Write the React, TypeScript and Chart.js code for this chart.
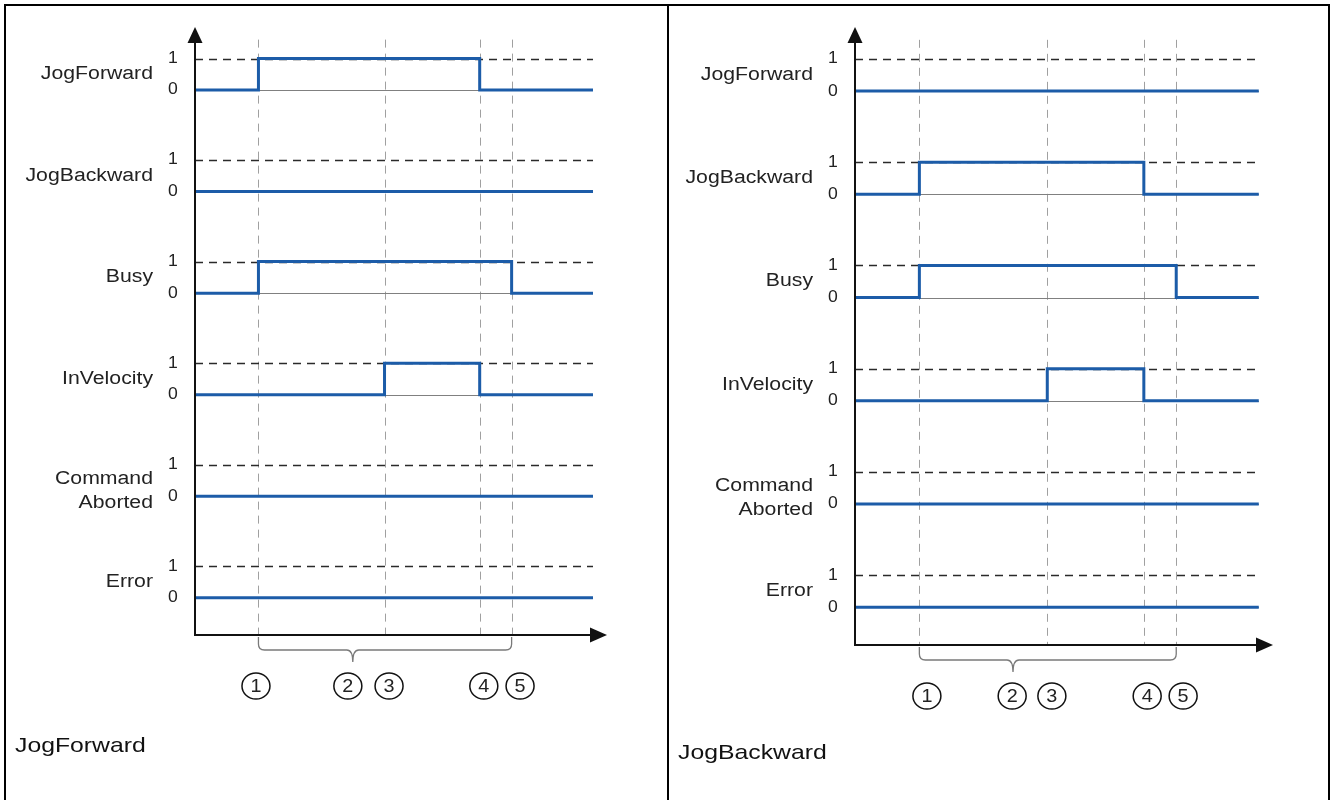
import React, { useEffect, useRef } from "react";
import { Chart, registerables } from "chart.js";

Chart.register(...registerables);

// ---------- data ----------
const SIGNAL_LABELS: string[][] = [
  ["JogForward"],
  ["JogBackward"],
  ["Busy"],
  ["InVelocity"],
  ["Command", "Aborted"],
  ["Error"],
];
const LEVEL_TICKS = ["0", "1"];
// edge times (markers 1, 3, 4, 5) on a 0..100 time axis (100 = arrow tip)
const EVENT_TIMES = [15.4, 46, 69.1, 76.85];
const SIGNAL_END = 96.6;
// levels per interval: [0-t1, t1-t3, t3-t4, t4-t5, t5-end]
const FWD_JOGFORWARD = [0, 1, 1, 0, 0];
const FWD_JOGBACKWARD = [0, 0, 0, 0, 0];
const FWD_BUSY = [0, 1, 1, 1, 0];
const FWD_INVELOCITY = [0, 0, 1, 0, 0];
const FWD_ABORTED = [0, 0, 0, 0, 0];
const FWD_ERROR = [0, 0, 0, 0, 0];

const BWD_JOGFORWARD = [0, 0, 0, 0, 0];
const BWD_JOGBACKWARD = [0, 1, 1, 0, 0];
const BWD_BUSY = [0, 1, 1, 1, 0];
const BWD_INVELOCITY = [0, 0, 1, 0, 0];
const BWD_ABORTED = [0, 0, 0, 0, 0];
const BWD_ERROR = [0, 0, 0, 0, 0];

const MARKER_NUMBERS = ["1", "2", "3", "4", "5"];
const FWD_MARKER_TIMES = [14.8, 37.1, 47.1, 70.1, 78.9];
const BWD_MARKER_TIMES = [17.2, 37.6, 47.1, 69.9, 78.5];
const BRACE_TIP_TIMES = [38.3, 37.8];

const CAPTIONS = ["JogForward", "JogBackward"];

// ---------- geometry / style ----------
const ROW_SPACING = 3.22;
const Y_MIN = -1.18;
const Y_MAX = 18.1;
const VLINE_TOP = 17.7;
const BLUE = "#1c5ca8";
const TEXT = "#222";
const FONT = "Arial, 'Liberation Sans', Helvetica, sans-serif";
const STRETCH = 1.18;

const rowBase = (i: number) => (SIGNAL_LABELS.length - 1 - i) * ROW_SPACING;

function stepPoints(levels: number[], row: number) {
  const times = [0, ...EVENT_TIMES, SIGNAL_END];
  return times.map((t, k) => ({
    x: t,
    y: rowBase(row) + levels[Math.min(k, levels.length - 1)],
  }));
}

function drawText(
  ctx: CanvasRenderingContext2D,
  text: string,
  x: number,
  y: number,
  size: number,
  align: CanvasTextAlign,
  sx: number
) {
  ctx.save();
  ctx.translate(x, y);
  ctx.scale(sx, 1);
  ctx.font = `${size}px ${FONT}`;
  ctx.textAlign = align;
  ctx.textBaseline = "middle";
  ctx.fillText(text, 0, 0);
  ctx.restore();
}

function makePlugin(markerTimes: number[], braceTip: number) {
  return {
    id: "timing",
    beforeDatasetsDraw(chart: any) {
      const { ctx, scales } = chart;
      const x = scales.x;
      const y = scales.y;
      const x0 = x.getPixelForValue(0);
      const x1 = x.getPixelForValue(SIGNAL_END);
      ctx.save();
      // vertical event lines
      ctx.setLineDash([8, 6]);
      ctx.strokeStyle = "#a0a0a0";
      ctx.lineWidth = 1;
      for (const t of EVENT_TIMES) {
        const px = Math.round(x.getPixelForValue(t)) + 0.5;
        ctx.beginPath();
        ctx.moveTo(px, y.getPixelForValue(VLINE_TOP));
        ctx.lineTo(px, y.getPixelForValue(Y_MIN));
        ctx.stroke();
      }
      // level-1 dashed guides
      ctx.strokeStyle = "#2a2a2a";
      ctx.lineWidth = 1.3;
      SIGNAL_LABELS.forEach((_, i) => {
        const py = Math.round(y.getPixelForValue(rowBase(i) + 1)) + 0.5;
        ctx.beginPath();
        ctx.moveTo(x0, py);
        ctx.lineTo(x1, py);
        ctx.stroke();
      });
      // thin level-0 baselines
      ctx.setLineDash([]);
      ctx.strokeStyle = "#808080";
      ctx.lineWidth = 1;
      SIGNAL_LABELS.forEach((_, i) => {
        const py = Math.round(y.getPixelForValue(rowBase(i))) + 0.5;
        ctx.beginPath();
        ctx.moveTo(x0, py);
        ctx.lineTo(x1, py);
        ctx.stroke();
      });
      ctx.restore();
    },
    afterDatasetsDraw(chart: any) {
      const { ctx, scales } = chart;
      const x = scales.x;
      const y = scales.y;
      const ax = x.getPixelForValue(0);
      const ay = y.getPixelForValue(Y_MIN);
      const top = y.getPixelForValue(Y_MAX);
      const right = x.getPixelForValue(100);
      ctx.save();
      ctx.fillStyle = "#111";
      ctx.strokeStyle = "#111";
      ctx.lineWidth = 2;
      // axes
      ctx.beginPath();
      ctx.moveTo(ax, top + 10);
      ctx.lineTo(ax, ay);
      ctx.lineTo(right - 10, ay);
      ctx.stroke();
      // arrowheads
      ctx.beginPath();
      ctx.moveTo(ax, top);
      ctx.lineTo(ax - 7.5, top + 16);
      ctx.lineTo(ax + 7.5, top + 16);
      ctx.closePath();
      ctx.fill();
      ctx.beginPath();
      ctx.moveTo(right, ay);
      ctx.lineTo(right - 17, ay - 7.5);
      ctx.lineTo(right - 17, ay + 7.5);
      ctx.closePath();
      ctx.fill();

      // signal names and level ticks
      ctx.fillStyle = TEXT;
      SIGNAL_LABELS.forEach((lines, i) => {
        const base = rowBase(i);
        if (lines.length === 1) {
          drawText(ctx, lines[0], ax - 42, y.getPixelForValue(base + 0.5), 18, "right", STRETCH);
        } else {
          drawText(ctx, lines[0], ax - 42, y.getPixelForValue(base + 0.55), 18, "right", STRETCH);
          drawText(ctx, lines[1], ax - 42, y.getPixelForValue(base - 0.2), 18, "right", STRETCH);
        }
        drawText(ctx, LEVEL_TICKS[0], ax - 22, y.getPixelForValue(base), 16, "center", 1.1);
        drawText(ctx, LEVEL_TICKS[1], ax - 22, y.getPixelForValue(base + 1), 16, "center", 1.1);
      });

      // brace
      const a = x.getPixelForValue(EVENT_TIMES[0]);
      const b = x.getPixelForValue(EVENT_TIMES[3]);
      const m = x.getPixelForValue(braceTip);
      const yTop = ay + 2;
      const yMid = ay + 15;
      const yTip = ay + 27;
      const r = 6;
      ctx.strokeStyle = "#7a7a7a";
      ctx.lineWidth = 1.3;
      ctx.beginPath();
      ctx.moveTo(a, yTop);
      ctx.lineTo(a, yMid - r);
      ctx.quadraticCurveTo(a, yMid, a + r, yMid);
      ctx.lineTo(m - 6, yMid);
      ctx.quadraticCurveTo(m, yMid, m, yTip);
      ctx.quadraticCurveTo(m, yMid, m + 6, yMid);
      ctx.lineTo(b - r, yMid);
      ctx.quadraticCurveTo(b, yMid, b, yMid - r);
      ctx.lineTo(b, yTop);
      ctx.stroke();

      // circled markers
      ctx.strokeStyle = "#111";
      ctx.lineWidth = 1.5;
      ctx.fillStyle = TEXT;
      const cy = ay + 51;
      markerTimes.forEach((t, k) => {
        const cx = x.getPixelForValue(t);
        ctx.beginPath();
        ctx.ellipse(cx, cy, 14, 13, 0, 0, Math.PI * 2);
        ctx.stroke();
        drawText(ctx, MARKER_NUMBERS[k], cx, cy + 1, 18, "center", 1.1);
      });
      ctx.restore();
    },
  };
}

type PanelProps = {
  left: number;
  width: number;
  padLeft: number;
  padRight: number;
  padBottom: number;
  series: number[][];
  markers: number[];
  braceTip: number;
};

function Panel({ left, width, padLeft, padRight, padBottom, series, markers, braceTip }: PanelProps) {
  const ref = useRef<HTMLCanvasElement>(null);
  useEffect(() => {
    const chart = new Chart(ref.current!, {
      type: "line",
      data: {
        datasets: series.map((lv, i) => ({
          label: SIGNAL_LABELS[i].join(" "),
          data: stepPoints(lv, i),
          borderColor: BLUE,
          borderWidth: 3,
          stepped: true,
          pointRadius: 0,
          fill: false,
          borderCapStyle: "butt",
          borderJoinStyle: "miter",
        })),
      },
      options: {
        animation: false,
        responsive: false,
        devicePixelRatio: 1,
        events: [],
        layout: { padding: { left: padLeft, right: padRight, top: 27, bottom: padBottom } },
        plugins: { legend: { display: false }, title: { display: false }, tooltip: { enabled: false } },
        scales: {
          x: { type: "linear", min: 0, max: 100, display: false },
          y: { type: "linear", min: Y_MIN, max: Y_MAX, display: false },
        },
      },
      plugins: [makePlugin(markers, braceTip)],
    } as any);
    return () => chart.destroy();
  }, []);
  return (
    <canvas
      ref={ref}
      width={width}
      height={800}
      style={{ position: "absolute", left, top: 0, width, height: 800 }}
    />
  );
}

const lineStyle = (l: number, t: number, w: number, h: number): React.CSSProperties => ({
  position: "absolute",
  left: l,
  top: t,
  width: w,
  height: h,
  background: "#000",
});

const captionStyle = (l: number, t: number): React.CSSProperties => ({
  position: "absolute",
  left: l,
  top: t,
  fontFamily: FONT,
  fontSize: 21,
  lineHeight: "24px",
  color: "#111",
  transform: `scaleX(${STRETCH})`,
  transformOrigin: "left center",
  whiteSpace: "nowrap",
});

export default function App() {
  return (
    <div style={{ position: "absolute", left: 0, top: 0, width: 1330, height: 800, background: "#fff", overflow: "hidden" }}>
      <Panel
        left={0}
        width={668}
        padLeft={195}
        padRight={61}
        padBottom={165}
        series={[FWD_JOGFORWARD, FWD_JOGBACKWARD, FWD_BUSY, FWD_INVELOCITY, FWD_ABORTED, FWD_ERROR]}
        markers={FWD_MARKER_TIMES}
        braceTip={BRACE_TIP_TIMES[0]}
      />
      <Panel
        left={668}
        width={662}
        padLeft={187}
        padRight={57}
        padBottom={155}
        series={[BWD_JOGFORWARD, BWD_JOGBACKWARD, BWD_BUSY, BWD_INVELOCITY, BWD_ABORTED, BWD_ERROR]}
        markers={BWD_MARKER_TIMES}
        braceTip={BRACE_TIP_TIMES[1]}
      />
      <div style={lineStyle(4, 4, 1326, 2)} />
      <div style={lineStyle(4, 4, 2, 796)} />
      <div style={lineStyle(667, 4, 2, 796)} />
      <div style={lineStyle(1328, 4, 2, 796)} />
      <div style={captionStyle(15, 733)}>{CAPTIONS[0]}</div>
      <div style={captionStyle(678, 740)}>{CAPTIONS[1]}</div>
    </div>
  );
}
